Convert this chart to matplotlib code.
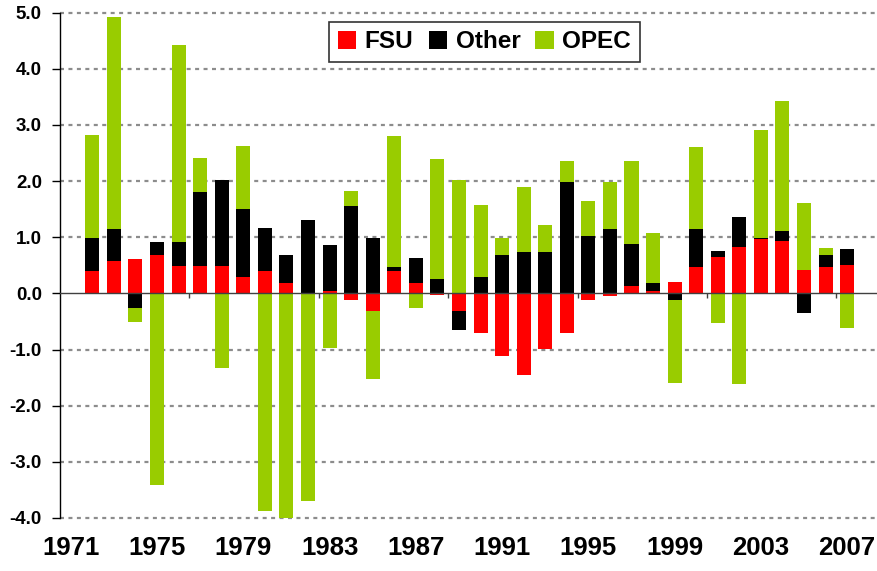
import numpy as np
import matplotlib
matplotlib.use("Agg")
import matplotlib.pyplot as plt

years = list(range(1971, 2008))
fsu = [np.nan, 0.40, 0.58, 0.61, 0.69, 0.49, 0.49, 0.49, 0.30, 0.40,
       0.19, 0.00, 0.04, -0.12, -0.31, 0.40, 0.19, -0.03, -0.31, -0.71,
       -1.115, -1.45, -0.99, -0.71, -0.12, -0.045, 0.14, 0.04, 0.21, 0.465,
       0.65, 0.835, 0.965, 0.94, 0.425, 0.465, 0.51]
other = [np.nan, 0.58, 0.57, -0.26, 0.23, 0.43, 1.31, 1.53, 1.20, 0.77,
         0.49, 1.31, 0.83, 1.565, 0.98, 0.065, 0.435, 0.26, -0.34, 0.30,
         0.69, 0.73, 0.73, 1.98, 1.02, 1.15, 0.735, 0.15, -0.12, 0.685,
         0.10, 0.535, 0.025, 0.17, -0.34, 0.225, 0.28]
opec = [np.nan, 1.85, 3.77, -0.25, -3.41, 3.51, 0.62, -1.32, 1.12, -3.87,
        -4.00, -3.70, -0.97, 0.26, -1.22, 2.34, -0.265, 2.13, 2.015, 1.28,
        0.30, 1.16, 0.48, 0.37, 0.62, 0.83, 1.475, 0.895, -1.47, 1.45,
        -0.53, -1.61, 1.92, 2.325, 1.18, 0.125, -0.615]
series_names = ["FSU", "Other", "OPEC"]
series_colors = ["#FF0000", "#000000", "#99CC00"]
x_labels = list(range(1971, 2008, 4))
y_ticks = [5.0, 4.0, 3.0, 2.0, 1.0, 0.0, -1.0, -2.0, -3.0, -4.0]

plt.rcParams['font.family'] = ['Liberation Sans', 'DejaVu Sans']

fig = plt.figure(figsize=(8.78, 5.71), dpi=100)
ax = fig.add_axes([60 / 878, 1 - 518 / 571, 1 - 60 / 878, (518 - 12.7) / 571])

x = np.array(years, dtype=float)
pos_base = np.zeros(len(years))
neg_base = np.zeros(len(years))
handles = []
for name, vals, col in zip(series_names, [fsu, other, opec], series_colors):
    v = np.nan_to_num(np.array(vals, dtype=float))
    bottom = np.where(v >= 0, pos_base, neg_base)
    h = ax.bar(x, v, bottom=bottom, width=0.65, color=col, label=name,
               edgecolor='none', zorder=3)
    handles.append(h)
    pos_base = pos_base + np.where(v > 0, v, 0)
    neg_base = neg_base + np.where(v < 0, v, 0)

ax.set_xlim(1970.5, 2008.43)
ax.set_ylim(-4.0, 5.0)

# gridlines
for yv in y_ticks:
    if yv != 0:
        ax.axhline(yv, color='#8c8c8c', lw=1.6, ls=(0, (1.8, 2.0)), zorder=1,
                   clip_on=False)
ax.axhline(0, color='#404040', lw=1.0, zorder=4)
# category-axis tick marks on the zero line (every 6 categories)
axis_tick_pos = np.arange(1976.5, 2008.0, 6)
ax.vlines(axis_tick_pos, 0, -0.09, color='#404040', lw=1.0, zorder=4)

for s in ['top', 'right', 'bottom']:
    ax.spines[s].set_visible(False)
ax.spines['left'].set_color('black')
ax.spines['left'].set_linewidth(1.0)

ax.set_yticks(y_ticks)
ax.set_yticklabels([f"{v:.1f}" for v in y_ticks], fontsize=13.5, fontweight='bold')
ax.tick_params(axis='y', direction='out', length=6, width=1, pad=7)
ax.set_xticks(x_labels)
ax.set_xticklabels([str(v) for v in x_labels], fontsize=18.5, fontweight='bold')
ax.tick_params(axis='x', length=0, pad=13)

leg = ax.legend(handles=handles, labels=series_names, loc='upper center',
                ncol=3, prop={'size': 17.5, 'weight': 'bold'}, frameon=True,
                fancybox=False, shadow=False, handlelength=0.76,
                handleheight=0.72, handletextpad=0.35, columnspacing=0.62,
                borderpad=0.36, borderaxespad=0)
leg.set_bbox_to_anchor((484.5 / 878, 1 - 21.7 / 571), transform=fig.transFigure)
leg.get_frame().set_edgecolor('black')
leg.get_frame().set_linewidth(1.2)
leg.set_zorder(10)

fig.savefig("out.png", dpi=100)
